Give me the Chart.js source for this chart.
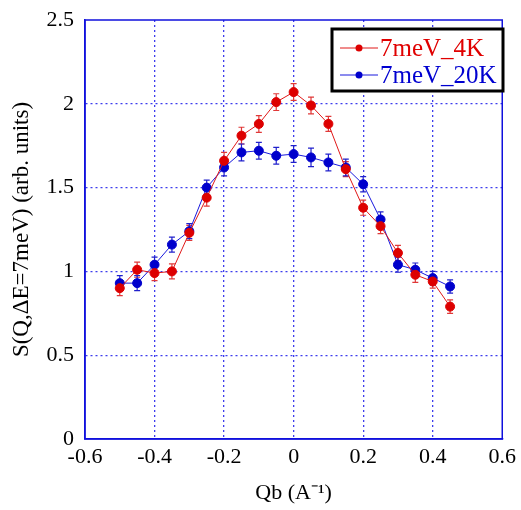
<!DOCTYPE html>
<html>
<head>
<meta charset="utf-8">
<script src="https://cdn.jsdelivr.net/npm/chart.js@4/dist/chart.umd.min.js"></script>
<style>
  html, body { margin: 0; padding: 0; background: #fff; }
  #wrap { width: 521px; height: 510px; }
</style>
</head>
<body>
<div id="wrap"><canvas id="chart" width="521" height="510"></canvas></div>
<script>
/* data */
var qb = [-0.5, -0.45, -0.4, -0.35, -0.3, -0.25, -0.2, -0.15, -0.1, -0.05, 0, 0.05, 0.1, 0.15, 0.2, 0.25, 0.3, 0.35, 0.4, 0.45];
var s4K = [0.90, 1.01, 0.99, 1.00, 1.23, 1.44, 1.66, 1.81, 1.88, 2.01, 2.07, 1.99, 1.88, 1.61, 1.38, 1.27, 1.11, 0.98, 0.94, 0.79];
var err4K = [0.045, 0.045, 0.045, 0.045, 0.045, 0.05, 0.05, 0.05, 0.05, 0.05, 0.05, 0.05, 0.045, 0.045, 0.045, 0.045, 0.045, 0.045, 0.04, 0.04];
var s20K = [0.93, 0.93, 1.04, 1.16, 1.24, 1.50, 1.62, 1.71, 1.72, 1.69, 1.70, 1.68, 1.65, 1.62, 1.52, 1.31, 1.04, 1.01, 0.96, 0.91];
var err20K = [0.045, 0.045, 0.045, 0.045, 0.045, 0.045, 0.05, 0.05, 0.05, 0.05, 0.05, 0.055, 0.05, 0.05, 0.045, 0.045, 0.045, 0.04, 0.04, 0.04];
var labels = ['7meV_4K', '7meV_20K'];
var xTicks = [-0.6, -0.4, -0.2, 0, 0.2, 0.4, 0.6];
var yTicks = [0, 0.5, 1, 1.5, 2, 2.5];

var serif = "'Liberation Serif', 'Times New Roman', serif";
var gridBlue = 'rgba(40, 40, 235, 0.9)';
var axisBlue = '#1010dd';

function pts(ys) {
  return qb.map(function (x, i) { return {x: x, y: ys[i]}; });
}

/* vertical error bars with small caps */
var errorBars = {
  id: 'errorBars',
  beforeDatasetsDraw: function (chart) {
    var ctx = chart.ctx;
    var ys = chart.scales.y;
    chart.data.datasets.forEach(function (ds, i) {
      var meta = chart.getDatasetMeta(i);
      ctx.save();
      ctx.strokeStyle = ds.errorColor;
      ctx.lineWidth = 1.2;
      meta.data.forEach(function (p, j) {
        var v = ds.data[j].y, e = ds.errors[j];
        var top = ys.getPixelForValue(v + e), bot = ys.getPixelForValue(v - e);
        ctx.beginPath();
        ctx.moveTo(p.x, top); ctx.lineTo(p.x, bot);
        ctx.moveTo(p.x - 3, top); ctx.lineTo(p.x + 3, top);
        ctx.moveTo(p.x - 3, bot); ctx.lineTo(p.x + 3, bot);
        ctx.stroke();
      });
      ctx.restore();
    });
  }
};

/* full frame round the plot and the boxed legend */
var frameLegend = {
  id: 'frameLegend',
  afterDraw: function (chart) {
    var ctx = chart.ctx;
    var a = chart.chartArea;
    ctx.save();
    ctx.strokeStyle = axisBlue;
    ctx.lineWidth = 1.5;
    ctx.strokeRect(a.left, a.top, a.right - a.left, a.bottom - a.top);

    var bx = 332, by = 29, bw = 171, bh = 62;
    ctx.fillStyle = '#fff';
    ctx.fillRect(bx, by, bw, bh);
    ctx.strokeStyle = '#000';
    ctx.lineWidth = 3;
    ctx.strokeRect(bx, by, bw, bh);

    ctx.font = '25px ' + serif;
    ctx.textBaseline = 'middle';
    chart.data.datasets.forEach(function (ds, i) {
      var cy = 48 + i * 27;
      ctx.strokeStyle = ds.borderColor;
      ctx.lineWidth = 1;
      ctx.beginPath(); ctx.moveTo(340, cy); ctx.lineTo(378, cy); ctx.stroke();
      ctx.fillStyle = ds.pointBackgroundColor;
      ctx.beginPath(); ctx.arc(359, cy, 3.5, 0, Math.PI * 2); ctx.fill();
      ctx.fillStyle = ds.textColor;
      ctx.fillText(ds.label, 380, cy + 1);
    });
    ctx.restore();
  }
};

function fmt(v) { return Number(v.toFixed(1)).toString(); }

new Chart(document.getElementById('chart'), {
  type: 'scatter',
  data: {
    datasets: [{
      label: labels[0],
      data: pts(s4K),
      errors: err4K,
      showLine: true,
      borderColor: '#e01818',
      borderWidth: 1,
      pointBackgroundColor: '#dd0000',
      pointBorderColor: '#dd0000',
      pointRadius: 4.5,
      errorColor: '#e03838',
      textColor: '#e00000'
    }, {
      label: labels[1],
      data: pts(s20K),
      errors: err20K,
      showLine: true,
      borderColor: '#1818dd',
      borderWidth: 1,
      pointBackgroundColor: '#0000cc',
      pointBorderColor: '#0000cc',
      pointRadius: 4.5,
      errorColor: '#2020cc',
      textColor: '#0000d0'
    }]
  },
  options: {
    responsive: false,
    animation: false,
    layout: {padding: {left: 0, right: 17, top: 20, bottom: 0}},
    plugins: {legend: {display: false}, tooltip: {enabled: false}},
    scales: {
      x: {
        type: 'linear', min: -0.6, max: 0.6,
        afterBuildTicks: function (s) { s.ticks = xTicks.map(function (v) { return {value: v}; }); },
        afterFit: function (s) { s.height = 71; },
        ticks: {color: '#000', font: {family: serif, size: 22}, padding: 5, maxRotation: 0, callback: fmt},
        grid: {
          drawTicks: false, lineWidth: 1.3,
          color: function (c) { return (c.tick && (c.tick.value <= -0.6 || c.tick.value >= 0.6)) ? 'rgba(0,0,0,0)' : gridBlue; }
        },
        border: {color: axisBlue, width: 1.5, dash: [2, 3]},
        title: {display: true, text: 'Qb (A\u207B\u00B9)', color: '#000', font: {family: serif, size: 22}, padding: {top: 0, bottom: 4}}
      },
      y: {
        min: 0, max: 2.5,
        afterBuildTicks: function (s) { s.ticks = yTicks.map(function (v) { return {value: v}; }); },
        afterFit: function (s) { s.width = 85; s.paddingTop = 0; s.paddingBottom = 0; },
        ticks: {color: '#000', font: {family: serif, size: 22}, padding: 11, callback: fmt},
        grid: {
          drawTicks: false, lineWidth: 1.3,
          color: function (c) { return (c.tick && (c.tick.value <= 0 || c.tick.value >= 2.5)) ? 'rgba(0,0,0,0)' : gridBlue; }
        },
        border: {color: axisBlue, width: 1.5, dash: [2, 3]},
        title: {display: true, text: 'S(Q,\u0394E=7meV) (arb. units)', color: '#000', font: {family: serif, size: 23}, padding: {top: 8, bottom: 0}}
      }
    }
  },
  plugins: [errorBars, frameLegend]
});
</script>
</body>
</html>
